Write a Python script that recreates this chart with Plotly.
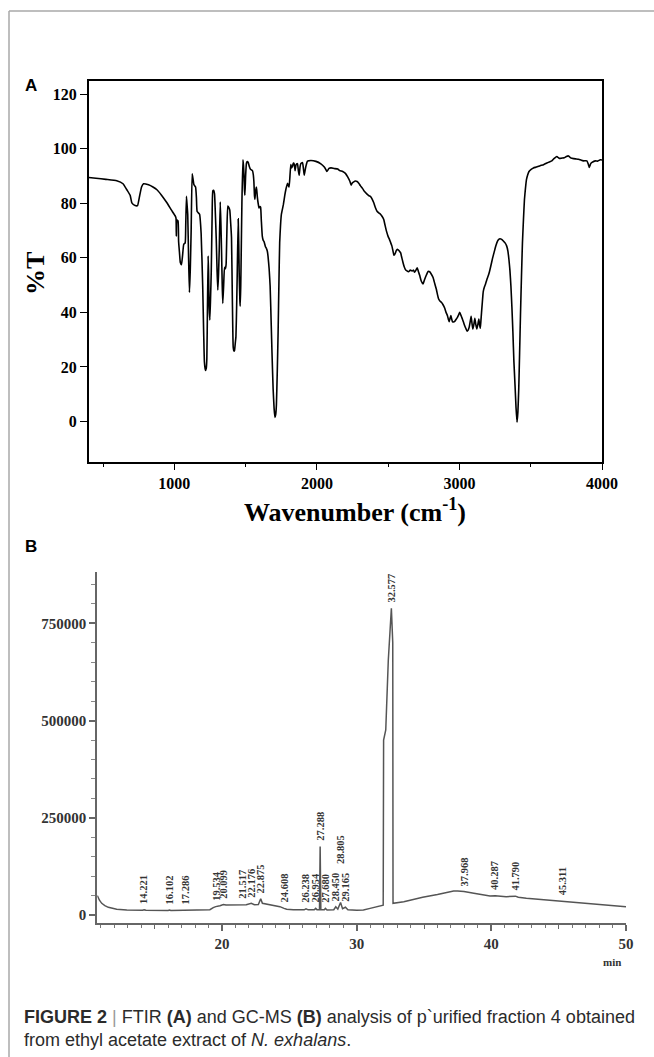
import numpy as np
import plotly.graph_objects as go

# ---------------- FTIR data (panel A) ----------------
ftir_wavenumber = [
    400, 450, 520, 596, 640, 667, 690, 702, 725, 742, 756, 770, 784, 819, 850, 878, 910, 948, 980, 1007,
    1012, 1014, 1017, 1026, 1030, 1036, 1042, 1050, 1058, 1066, 1076, 1080, 1085, 1090, 1094, 1100, 1106,
    1112, 1118, 1125, 1131, 1137, 1149, 1155, 1160, 1177, 1188, 1199, 1206, 1211, 1218, 1224, 1228, 1232,
    1237, 1240, 1244, 1249, 1254, 1259, 1265, 1270, 1276, 1282, 1288, 1294, 1300, 1305, 1310, 1315, 1322,
    1327, 1331, 1336, 1340, 1346, 1352, 1358, 1363, 1368, 1375, 1382, 1389, 1395, 1401, 1407, 1413, 1418,
    1422, 1428, 1432, 1437, 1441, 1448, 1452, 1455, 1460, 1462, 1466, 1469, 1474, 1481, 1485, 1488, 1492,
    1495, 1500, 1506, 1512, 1518, 1526, 1534, 1548, 1554, 1558, 1562, 1565, 1569, 1575, 1578, 1582, 1588,
    1594, 1600, 1605, 1610, 1617, 1623, 1629, 1640, 1646, 1652, 1657, 1665, 1672, 1680, 1685, 1693, 1700,
    1706, 1711, 1716, 1722, 1728, 1734, 1739, 1745, 1751, 1765, 1775, 1782, 1794, 1800, 1805, 1811, 1817,
    1823, 1829, 1835, 1841, 1847, 1853, 1858, 1864, 1870, 1876, 1882, 1888, 1899, 1905, 1911, 1917, 1923,
    1934, 1958, 1993, 2028, 2052, 2062, 2070, 2085, 2099, 2120, 2146, 2160, 2181, 2200, 2216, 2232, 2240,
    2248, 2256, 2270, 2282, 2295, 2305, 2320, 2333, 2350, 2365, 2375, 2385, 2399, 2410, 2422, 2434, 2446,
    2458, 2469, 2478, 2488, 2500, 2509, 2518, 2526, 2534, 2540, 2545, 2550, 2558, 2568, 2578, 2587, 2596,
    2604, 2612, 2620, 2632, 2643, 2655, 2667, 2678, 2685, 2695, 2704, 2712, 2721, 2732, 2744, 2755, 2768,
    2780, 2791, 2803, 2815, 2827, 2838, 2846, 2854, 2863, 2873, 2885, 2897, 2906, 2916, 2922, 2928, 2934,
    2940, 2946, 2951, 2958, 2967, 2976, 2986, 2995, 3002, 3010, 3019, 3028, 3037, 3046, 3054, 3061, 3068,
    3075, 3082, 3088, 3094, 3101, 3108, 3115, 3122, 3129, 3136, 3141, 3146, 3150, 3155, 3161, 3167, 3175,
    3183, 3192, 3202, 3211, 3220, 3232, 3244, 3256, 3268, 3276, 3284, 3296, 3308, 3320, 3331, 3340, 3347,
    3354, 3361, 3368, 3375, 3382, 3390, 3397, 3404, 3410, 3416, 3422, 3428, 3435, 3442, 3449, 3456, 3463,
    3470, 3479, 3488, 3503, 3519, 3540, 3566, 3590, 3613, 3630, 3648, 3665, 3683, 3700, 3718, 3735, 3750,
    3765, 3780, 3801, 3820, 3836, 3855, 3871, 3894, 3903, 3911, 3920, 3930, 3953, 3970, 3988, 4000,
]
ftir_transmittance = [
    89.5, 89.2, 88.8, 88.3, 87.2, 85, 83, 80.2, 79.2, 79.2, 82.6, 86, 87.2, 86.8, 86, 85, 83, 80.2, 77.5, 75.3,
    74.5, 68, 74, 73.5, 66, 62, 58.3, 57.5, 61, 65, 65.5, 72, 82.6, 79, 76, 60, 47.3,
    56, 70, 90.8, 89, 86.9, 86, 82, 77, 76, 69, 49.7, 32, 21.8, 18.7, 19.5, 23, 40,
    60.7, 55, 42, 37.2, 45, 55, 75, 84.6, 84.8, 83.5, 76, 67, 55, 48.2, 54, 63, 80.5,
    72, 63, 50, 43.3, 50, 56.5, 56, 57.5, 68, 79, 78.5, 77.5, 73, 67.5, 45, 27.2, 25.8,
    26, 29, 31, 42, 53.4, 74.3, 65, 54, 44, 42.3, 50, 61, 80, 96, 94, 91, 85,
    83, 90, 94.8, 95.3, 95, 93.5, 92.5, 92, 90.5, 88, 83, 81.5, 84, 86, 85, 82.5, 80,
    78.3, 78.8, 78.6, 74, 68, 66.5, 66, 64, 63.5, 62.5, 60.7, 56, 49.7, 35, 25.4, 12, 4.7,
    1.5, 2.5, 6, 18, 32.7, 52, 65.6, 72, 76, 79.6, 83, 85, 87.4, 86.5, 86, 90, 94.2,
    93, 93.6, 94.8, 94.5, 92, 94, 94.5, 94.5, 92, 90.3, 93.5, 94.6, 95, 93, 90.3, 92, 93.6,
    95.5, 95.7, 95.4, 94.5, 93.3, 92.5, 91.7, 92.8, 93, 92.8, 92.6, 92, 91.7, 91, 89.7, 88, 86.7,
    87.5, 87.8, 88.2, 88, 87.3, 86.5, 85.5, 84.4, 83.5, 82.8, 82.6, 81.8, 80.2, 78.5, 77.1, 76.5, 76,
    75.2, 74.1, 72, 69.8, 67.8, 66.8, 65.5, 64.4, 62.5, 61, 61.2, 61.7, 62.8, 63.1, 62.5, 61.9, 60,
    58.3, 56.8, 55.8, 55.2, 54.9, 55.5, 55.2, 55.5, 54.7, 55.5, 56.4, 55, 53.6, 51.5, 50.4, 52, 53.7,
    55, 54.9, 54, 52.8, 50.5, 48.5, 46.5, 44.9, 44.2, 43.7, 42.8, 41.5, 40, 38.8, 37.5, 36.6, 37.8,
    38.8, 37.5, 36.6, 36.5, 36.7, 37.4, 38.2, 39.2, 40, 39, 37.8, 36.5, 35.1, 34, 33.1, 33.5, 34.5,
    36.5, 38.6, 36, 33.9, 35.5, 37.8, 35.5, 33.9, 35.5, 37.6, 35.5, 34.2, 36.5, 40, 44, 47.6, 49.3,
    50.4, 52, 53.4, 55, 57, 59.8, 62.2, 64.5, 66.2, 66.8, 67, 66.8, 66.2, 65.5, 64.4, 62.5, 59.5,
    55.5, 49.7, 42, 32.7, 22, 13.2, 5, -0.3, 3.5, 12, 25, 38.8, 53, 65.6, 74, 81.4, 85.5,
    88.7, 90.5, 91.7, 92.5, 93, 93.3, 93.8, 94.2, 94.8, 95.2, 95.6, 96.5, 97.2, 96.5, 96.6, 96.7, 97.2,
    97.4, 96.7, 96.4, 96.3, 96.2, 95.8, 95.6, 95.6, 94.5, 93.2, 94.5, 95, 95.6, 95.5, 96, 95.9,
]
ftir_y_ticks = [0, 20, 40, 60, 80, 100, 120]
ftir_x_ticks = [1000, 2000, 3000, 4000]

# ---------------- GC-MS data (panel B) ----------------
gc_time = [
    10.74, 10.9, 11.07, 11.3, 11.56, 11.85, 12.18, 12.93, 13.5, 14.1, 14.221, 14.35, 16.0, 16.102, 16.2,
    17.2, 17.286, 17.4, 18.86, 19.1, 19.35, 19.534, 19.85, 20.099, 20.3, 21.0, 21.517, 21.8, 22.176, 22.4,
    22.7, 22.875, 23.0, 23.5, 24.0, 24.3, 24.608, 24.8, 25.3, 26.1, 26.238, 26.4, 26.85, 26.954, 27.05,
    27.24, 27.288, 27.34, 27.6, 27.68, 27.8, 28.3, 28.45, 28.6, 28.805, 28.95, 29.165, 29.35, 30.0, 30.5,
    31.0, 31.5, 31.97, 32.0, 32.16, 32.35, 32.577, 32.68, 32.7, 33.5, 34.9, 36.0, 37.2, 37.5, 37.968,
    38.7, 39.9, 40.287, 40.6, 41.1, 41.79, 42.0, 42.6, 44.8, 45.311, 45.6, 47.3, 50.0,
]
gc_intensity = [
    50000, 38000, 30000, 24000, 19700, 16500, 14600, 12900, 12300, 12000, 13500, 12000, 11800, 13000, 11800,
    11800, 13000, 11800, 12000, 13500, 18800, 21500, 24000, 27000, 25500, 26000, 27500, 26500, 30000, 26500,
    27000, 42000, 30000, 27000, 25000, 21400, 17000, 14600, 13500, 13200, 16000, 13200, 13500, 17000, 13800,
    14000, 176000, 14000, 13500, 17000, 13000, 13500, 21000, 15000, 32000, 16000, 20000, 13500, 12500, 12900,
    17000, 21000, 25000, 450000, 476000, 656000, 789000, 700000, 30000, 34000, 45500, 52500, 61700, 62000, 60500,
    55800, 48900, 49500, 47800, 47000, 48500, 45500, 43000, 36800, 36000, 34500, 30000, 21300,
]
peak_labels = [
    "14.221", "16.102", "17.286", "19.534", "20.099", "21.517", "22.176", "22.875", "24.608",
    "26.238", "26.954", "27.288", "27.680", "28.450", "28.805", "29.165", "32.577",
    "37.968", "40.287", "41.790", "45.311",
]
gc_y_ticks = [0, 250000, 500000, 750000]
gc_x_ticks = [20, 30, 40, 50]
gc_x_half_ticks = [15, 25, 35, 45]

# ---------------- layout helpers ----------------
W, H = 654, 1057
def px(x):
    return x / W
def py(y):
    return 1 - y / H

SERIF = "Liberation Serif, Times New Roman, serif"
SANS = "Liberation Sans, Arial, sans-serif"

fig = go.Figure()

fig.add_trace(go.Scatter(
    x=ftir_wavenumber, y=ftir_transmittance, mode="lines",
    line=dict(color="#000000", width=1.6, shape="spline", smoothing=0.4),
    xaxis="x", yaxis="y", showlegend=False, hoverinfo="skip"))

fig.add_trace(go.Scatter(
    x=gc_time, y=gc_intensity, mode="lines",
    line=dict(color="#555555", width=1.5),
    xaxis="x2", yaxis="y2", showlegend=False, hoverinfo="skip"))

tick_font_a = dict(family=SERIF, size=16, color="#000000", weight="bold")
tick_font_b = dict(family=SERIF, size=15, color="#333333", weight="bold")

fig.update_layout(
    width=W, height=H, autosize=False,
    margin=dict(l=0, r=0, t=0, b=0, pad=0, autoexpand=False),
    paper_bgcolor="white", plot_bgcolor="white",
    xaxis=dict(
        domain=[px(88.8), px(602)], range=[400, 4000], anchor="y",
        showline=True, mirror=True, linecolor="black", linewidth=1.6,
        showgrid=False, zeroline=False,
        tickmode="array", tickvals=ftir_x_ticks, ticks="outside", ticklen=6, tickwidth=1.4,
        tickcolor="black", tickfont=tick_font_a,
        minor=dict(dtick=500, tick0=0, ticks="outside", ticklen=3, tickwidth=1.2, tickcolor="black"),
    ),
    yaxis=dict(
        domain=[py(462.3), py(80.7)], range=[-15, 125], anchor="x",
        showline=True, mirror=True, linecolor="black", linewidth=1.6,
        showgrid=False, zeroline=False,
        tickmode="array", tickvals=ftir_y_ticks, ticks="outside", ticklen=7, tickwidth=1.4,
        tickcolor="black", tickfont=tick_font_a,
    ),
    xaxis2=dict(
        domain=[px(97.3), px(626)], range=[10.74, 50], anchor="y2",
        showline=True, mirror=False, linecolor="#666666", linewidth=2,
        showgrid=False, zeroline=False,
        tickmode="array", tickvals=gc_x_ticks,
        ticks="outside", ticklen=6, tickwidth=1.5, tickcolor="#666666", tickfont=tick_font_b,
        minor=dict(dtick=1, tick0=0, ticks="outside", ticklen=3, tickwidth=1.2, tickcolor="#777777"),
    ),
    xaxis3=dict(
        domain=[px(97.3), px(626)], range=[10.74, 50], anchor="y2", overlaying="x2",
        showline=False, showgrid=False, zeroline=False, showticklabels=False,
        tickmode="array", tickvals=gc_x_half_ticks,
        ticks="outside", ticklen=5, tickwidth=1.4, tickcolor="#666666",
    ),
    yaxis2=dict(
        domain=[py(923), py(571.7)], range=[-20600, 883000], anchor="x2",
        showline=True, mirror=False, linecolor="#666666", linewidth=2,
        showgrid=False, zeroline=False,
        tickmode="array", tickvals=gc_y_ticks, tickformat="d",
        ticks="outside", ticklen=6, tickwidth=1.5, tickcolor="#666666", tickfont=tick_font_b,
        minor=dict(dtick=50000, tick0=0, ticks="outside", ticklen=4, tickwidth=1.2, tickcolor="#888888"),
    ),
)
# invisible trace to activate xaxis3
fig.add_trace(go.Scatter(x=[gc_time[0]], y=[gc_intensity[0]], mode="lines", xaxis="x3", yaxis="y2",
                         line=dict(width=0), showlegend=False, hoverinfo="skip", opacity=0))

annotations = []
# peak labels on chromatogram
t_arr = np.array(gc_time, dtype=float)
i_arr = np.array(gc_intensity, dtype=float)
for lab in peak_labels:
    t = float(lab)
    base = float(np.interp(t, t_arr, i_arr))
    yv = base + 9000
    if lab == "28.805":
        yv = 126000
    annotations.append(dict(
        x=t, y=yv, xref="x2", yref="y2", text=lab, showarrow=False,
        textangle=-90, xanchor="center", yanchor="bottom",
        font=dict(family=SERIF, size=10.5, color="#333333", weight="bold")))

# axis titles & panel letters
annotations += [
    dict(x=px(355), y=py(510), xref="paper", yref="paper", showarrow=False,
         text="Wavenumber (cm<sup>-1</sup>)", xanchor="center", yanchor="middle",
         font=dict(family=SERIF, size=26, color="black", weight="bold")),
    dict(x=px(36), y=py(274), xref="paper", yref="paper", showarrow=False,
         text="%T", textangle=-90, xanchor="center", yanchor="middle",
         font=dict(family=SERIF, size=26, color="black", weight="bold")),
    dict(x=px(31), y=py(85), xref="paper", yref="paper", showarrow=False,
         text="A", xanchor="center", yanchor="middle",
         font=dict(family=SANS, size=17, color="black", weight="bold")),
    dict(x=px(31), y=py(546), xref="paper", yref="paper", showarrow=False,
         text="B", xanchor="center", yanchor="middle",
         font=dict(family=SANS, size=17, color="black", weight="bold")),
    dict(x=px(612), y=py(962), xref="paper", yref="paper", showarrow=False,
         text="min", xanchor="center", yanchor="middle",
         font=dict(family=SERIF, size=11, color="#333333", weight="bold")),
    dict(x=px(22), y=py(1017), xref="paper", yref="paper", showarrow=False, align="left",
         text="<b>FIGURE 2</b> <span style='color:#9a9a9a'>|</span> FTIR <b>(A)</b> and GC-MS <b>(B)</b> "
              "analysis of p`urified fraction 4 obtained",
         xanchor="left", yanchor="middle",
         font=dict(family=SANS, size=18, color="#2b2b2b")),
    dict(x=px(22), y=py(1040), xref="paper", yref="paper", showarrow=False, align="left",
         text="from ethyl acetate extract of <i>N. exhalans</i>.",
         xanchor="left", yanchor="middle",
         font=dict(family=SANS, size=18, color="#2b2b2b")),
]
fig.update_layout(annotations=annotations)

# outer frame (top and left only)
fig.update_layout(shapes=[
    dict(type="line", xref="paper", yref="paper", x0=px(9), x1=1.0, y0=py(11), y1=py(11),
         line=dict(color="#a8a8a8", width=1.5)),
    dict(type="line", xref="paper", yref="paper", x0=px(9), x1=px(9), y0=0, y1=py(11),
         line=dict(color="#a8a8a8", width=1.5)),
])

fig.write_html("out.html", config={"displayModeBar": False, "responsive": False})
